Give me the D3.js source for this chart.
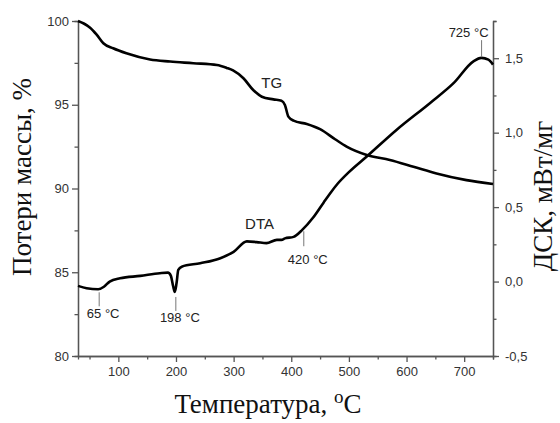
<!DOCTYPE html>
<html>
<head>
<meta charset="utf-8">
<script src="https://cdn.jsdelivr.net/npm/d3@7"></script>
<style>
  body { margin: 0; background: #fff; }
  svg { display: block; }
  .tick text { font-family: "Liberation Sans", Arial, sans-serif; font-size: 13px; fill: #333; }
  .axis path, .axis line { stroke: #555; stroke-width: 1.3; }
</style>
</head>
<body>
<script>
// TG curve: temperature (C) vs mass, %
var tgTemp = [30, 40, 51, 62, 74, 91, 114, 155, 190, 230, 271, 288, 299, 317, 334, 349, 369, 383, 389, 395, 404, 427, 450, 476, 496, 531, 571, 612, 652, 704, 750];
var tgMass = [100.0, 99.85, 99.6, 99.2, 98.67, 98.37, 98.07, 97.7, 97.58, 97.48, 97.37, 97.2, 97.05, 96.58, 95.88, 95.48, 95.32, 95.24, 94.99, 94.29, 94.05, 93.85, 93.54, 92.94, 92.5, 92.0, 91.7, 91.3, 90.9, 90.5, 90.27];

// DTA curve: temperature (C) vs mW/mg
var dtaTemp = [30, 45, 65, 75, 85, 103, 138, 172, 186, 191, 195, 198, 201, 204, 210, 242, 277, 300, 323, 340, 357, 375, 383, 389, 404, 419, 438, 456, 467, 480, 500, 531, 583, 641, 682, 716, 730, 742, 750];
var dtaVal = [-0.029, -0.045, -0.052, -0.035, 0.0, 0.022, 0.038, 0.056, 0.06, 0.04, -0.03, -0.07, -0.01, 0.078, 0.10, 0.123, 0.157, 0.2, 0.27, 0.265, 0.258, 0.28, 0.28, 0.29, 0.30, 0.347, 0.43, 0.53, 0.59, 0.655, 0.735, 0.84, 1.02, 1.2, 1.334, 1.479, 1.502, 1.49, 1.457];

// peak marks on the DTA curve
var peakTemp = [65, 198, 420, 725];
var peakLabel = ['65 °C', '198 °C', '420 °C', '725 °C'];

var xTicks = [100, 200, 300, 400, 500, 600, 700];
var leftTicks = [80, 85, 90, 95, 100];
var rightTicks = [-0.5, 0.0, 0.5, 1.0, 1.5];

var W = 560, H = 423;
var m = {left: 78, right: 67, top: 21, bottom: 67};

var svg = d3.select('body').append('svg').attr('width', W).attr('height', H);

var x = d3.scaleLinear().domain([30, 750]).range([m.left, W - m.right]);
var yL = d3.scaleLinear().domain([80, 100]).range([H - m.bottom, m.top]);
var yR = d3.scaleLinear().domain([-0.5, 1.75]).range([H - m.bottom, m.top]);

// minor ticks first
function minor(axis, vals) {
  return axis.tickValues(vals).tickSize(3.5).tickFormat('');
}
svg.append('g').attr('class', 'axis').attr('transform', 'translate(0,' + (H - m.bottom) + ')')
   .call(minor(d3.axisBottom(x), d3.range(50, 751, 100)));
svg.append('g').attr('class', 'axis').attr('transform', 'translate(' + m.left + ',0)')
   .call(minor(d3.axisLeft(yL), [82.5, 87.5, 92.5, 97.5]));
svg.append('g').attr('class', 'axis').attr('transform', 'translate(' + (W - m.right) + ',0)')
   .call(minor(d3.axisRight(yR), [-0.25, 0.25, 0.75, 1.25, 1.75]));

// major axes
svg.append('g').attr('class', 'axis').attr('transform', 'translate(0,' + (H - m.bottom) + ')')
   .call(d3.axisBottom(x).tickValues(xTicks).tickSize(6).tickSizeOuter(0).tickPadding(5));
svg.append('g').attr('class', 'axis').attr('transform', 'translate(' + m.left + ',0)')
   .call(d3.axisLeft(yL).tickValues(leftTicks).tickSize(6).tickSizeOuter(0).tickPadding(3));
svg.append('g').attr('class', 'axis').attr('transform', 'translate(' + (W - m.right) + ',0)')
   .call(d3.axisRight(yR).tickValues(rightTicks).tickSize(6).tickSizeOuter(0).tickPadding(6)
      .tickFormat(function(d) { return d.toFixed(1).replace('.', ','); }));

// curves
var tgLine = d3.line()
   .x(function(d, i) { return x(tgTemp[i]); })
   .y(function(d, i) { return yL(tgMass[i]); })
   .curve(d3.curveMonotoneX);
var dtaLine = d3.line()
   .x(function(d, i) { return x(dtaTemp[i]); })
   .y(function(d, i) { return yR(dtaVal[i]); })
   .curve(d3.curveMonotoneX);

svg.append('path').attr('d', tgLine(tgTemp))
   .attr('fill', 'none').attr('stroke', '#000').attr('stroke-width', 2.6);
svg.append('path').attr('d', dtaLine(dtaTemp))
   .attr('fill', 'none').attr('stroke', '#000').attr('stroke-width', 2.6);

// DTA value at a temperature (linear between points)
function dtaAt(t) {
  var i = d3.bisectLeft(dtaTemp, t);
  if (i <= 0) return dtaVal[0];
  var t0 = dtaTemp[i - 1], t1 = dtaTemp[i];
  return dtaVal[i - 1] + (dtaVal[i] - dtaVal[i - 1]) * (t - t0) / (t1 - t0);
}

var sans = '"Liberation Sans", Arial, sans-serif';
// leader lines: gap from the curve, length, text gap (negative = above)
var lead = [[3, 14, 12], [5, 14, 11], [2, 15, 18], [-2, -17, -3]];
peakTemp.forEach(function(t, i) {
  var px = x(t) + (i === 3 ? 3 : 1), py = yR(dtaAt(t));
  var s = lead[i];
  var y1 = py + s[0], y2 = y1 + s[1];
  svg.append('line').attr('x1', px).attr('x2', px).attr('y1', y1).attr('y2', y2)
     .attr('stroke', '#777').attr('stroke-width', 1);
  svg.append('text').attr('x', i === 3 ? px - 13 : px + 4)
     .attr('y', y2 + s[2])
     .attr('text-anchor', 'middle')
     .attr('font-family', sans).attr('font-size', 13).attr('fill', '#222')
     .text(peakLabel[i]);
});

// curve names
svg.append('text').attr('x', x(366)).attr('y', yL(96))
   .attr('text-anchor', 'middle').attr('font-family', sans).attr('font-size', 15).attr('fill', '#222')
   .text('TG');
svg.append('text').attr('x', x(345)).attr('y', yR(0.35))
   .attr('text-anchor', 'middle').attr('font-family', sans).attr('font-size', 15).attr('fill', '#222')
   .text('DTA');

// axis titles
var serif = '"Liberation Serif", "Times New Roman", serif';
var xt = svg.append('text').attr('x', 268).attr('y', 413)
   .attr('text-anchor', 'middle').attr('font-family', serif).attr('font-size', 27).attr('fill', '#111');
xt.append('tspan').text('Температура, ');
xt.append('tspan').attr('dy', -10).attr('font-size', 19).text('o');
xt.append('tspan').attr('dy', 10).text('C');

svg.append('text').attr('transform', 'translate(31,177) rotate(-90)')
   .attr('text-anchor', 'middle').attr('font-family', serif).attr('font-size', 27).attr('fill', '#111')
   .text('Потери массы, %');
svg.append('text').attr('transform', 'translate(552,196) rotate(-90)')
   .attr('text-anchor', 'middle').attr('font-family', serif).attr('font-size', 27).attr('fill', '#111')
   .text('ДСК, мВт/мг');
</script>
</body>
</html>
